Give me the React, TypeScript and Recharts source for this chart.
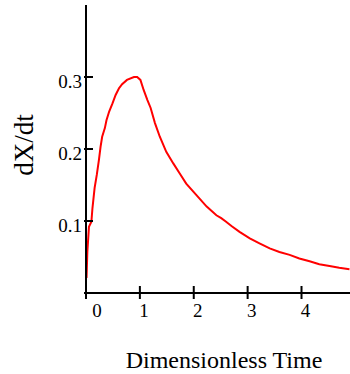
import { LineChart, Line, XAxis, YAxis } from "recharts";

const times = [
  0.01, 0.025, 0.055, 0.1, 0.12, 0.16, 0.2, 0.24, 0.27, 0.3, 0.35, 0.38, 0.43,
  0.49, 0.55, 0.61, 0.67, 0.76, 0.89, 0.95, 1.01, 1.07, 1.14, 1.2, 1.28, 1.37,
  1.49, 1.62, 1.74, 1.86, 2.05, 2.24, 2.42, 2.51, 2.6, 2.7, 2.85, 3.04, 3.22,
  3.41, 3.59, 3.78, 3.96, 4.15, 4.33, 4.52, 4.7, 4.89,
];

const rates = [
  0.021, 0.057, 0.092, 0.099, 0.118, 0.146, 0.164, 0.185, 0.203, 0.217, 0.229,
  0.24, 0.252, 0.263, 0.275, 0.284, 0.29, 0.296, 0.3, 0.3, 0.296, 0.282, 0.268,
  0.257, 0.236, 0.217, 0.196, 0.18, 0.166, 0.152, 0.136, 0.12, 0.108, 0.104,
  0.099, 0.093, 0.085, 0.076, 0.069, 0.062, 0.057, 0.053, 0.048, 0.044, 0.04,
  0.0375, 0.035, 0.033,
];

const xTicks = [0, 1, 2, 3, 4];
const yTicks = [0, 0.1, 0.2, 0.3];

const data = times.map((t, i) => ({ t, v: rates[i] }));

const font = "'Liberation Serif', 'Times New Roman', serif";

const XTick = (props: any) => {
  const { x, y, payload } = props;
  return (
    <g>
      <line x1={x} x2={x} y1={y - 7} y2={y + 6} stroke="#000" strokeWidth={2} />
      <text
        x={x + (payload.value === 0 ? 11 : 4)}
        y={y + 24}
        textAnchor="middle"
        style={{ fontFamily: font, fontSize: 19 }}
        fill="#000"
      >
        {payload.value}
      </text>
    </g>
  );
};

const YTick = (props: any) => {
  const { x, y, payload } = props;
  return (
    <g>
      <line x1={x - 2} x2={x + 7} y1={y} y2={y} stroke="#000" strokeWidth={2} />
      {payload.value > 0 && (
        <text
          x={x - 4}
          y={y + 11}
          textAnchor="end"
          style={{ fontFamily: font, fontSize: 19 }}
          fill="#000"
        >
          {payload.value}
        </text>
      )}
    </g>
  );
};

export default function App() {
  return (
    <div
      style={{
        position: "absolute",
        left: 0,
        top: 0,
        width: 350,
        height: 374,
        fontFamily: font,
      }}
    >
      <LineChart
        width={350}
        height={374}
        data={data}
        margin={{ top: 5, right: 0, bottom: 0, left: 0 }}
      >
        <XAxis
          dataKey="t"
          type="number"
          domain={[0, 4.9]}
          ticks={xTicks}
          height={81}
          tickSize={0}
          tickMargin={0}
          tickLine={false}
          axisLine={{ stroke: "#000", strokeWidth: 2 }}
          tick={<XTick />}
          interval={0}
        />
        <YAxis
          type="number"
          domain={[0, 0.4]}
          ticks={yTicks}
          width={86}
          tickSize={0}
          tickMargin={0}
          tickLine={false}
          axisLine={{ stroke: "#000", strokeWidth: 2 }}
          tick={<YTick />}
          interval={0}
        />
        <Line
          type="linear"
          dataKey="v"
          stroke="#ff0000"
          strokeWidth={2}
          dot={false}
          isAnimationActive={false}
        />
      </LineChart>
      <svg
        width={350}
        height={374}
        style={{ position: "absolute", left: 0, top: 0, pointerEvents: "none" }}
      >
        <text
          x={224}
          y={368}
          textAnchor="middle"
          style={{ fontFamily: font, fontSize: 24 }}
          fill="#000"
        >
          Dimensionless Time
        </text>
        <text
          transform="translate(33,145) rotate(-90)"
          textAnchor="middle"
          style={{ fontFamily: font, fontSize: 27 }}
          fill="#000"
        >
          dX/dt
        </text>
      </svg>
    </div>
  );
}
